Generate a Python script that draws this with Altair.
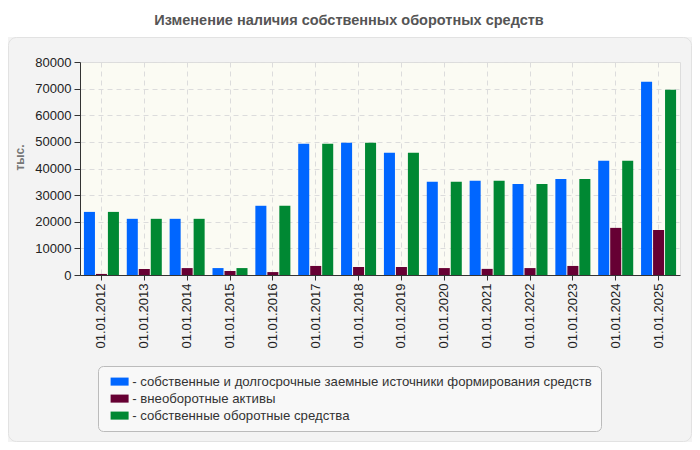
import altair as alt
import pandas as pd

TITLE = "Изменение наличия собственных оборотных средств"
Y_TITLE = "тыс."
dates = ["01.01.2012", "01.01.2013", "01.01.2014", "01.01.2015", "01.01.2016",
         "01.01.2017", "01.01.2018", "01.01.2019", "01.01.2020", "01.01.2021",
         "01.01.2022", "01.01.2023", "01.01.2024", "01.01.2025"]
series_names = [
    "собственные и долгосрочные заемные источники формирования средств",
    "внеоборотные активы",
    "собственные оборотные средства",
]
colors = ["#0066ff", "#660033", "#008833"]
own_long = [23700, 21100, 21100, 2600, 26000, 49300, 49700, 45900, 35000, 35400, 34200, 36100, 42900, 72600]
noncurrent = [400, 2300, 2600, 1500, 1100, 3400, 3000, 3000, 2600, 2300, 2600, 3400, 17700, 16900]
own_working = [23700, 21100, 21100, 2600, 26000, 49300, 49700, 45900, 35000, 35400, 34200, 36100, 42900, 69600]
y_ticks = [0, 10000, 20000, 30000, 40000, 50000, 60000, 70000, 80000]

rows = []
for i, d in enumerate(dates):
    for s, vals in zip(series_names, [own_long, noncurrent, own_working]):
        rows.append({"date": d, "series": s, "value": vals[i]})
df = pd.DataFrame(rows)

FONT = "Liberation Sans"

bars = alt.Chart(df).mark_bar().encode(
    x=alt.X("date:N", sort=dates,
            scale=alt.Scale(paddingInner=0.183, paddingOuter=0.0915),
            axis=alt.Axis(title=None, labelAngle=-90, labelFontSize=13, labelColor="#222",
                          labelPadding=3, tickSize=5, tickColor="#333", domainColor="#333",
                          gridDash=[5, 4], gridColor="#dcdcdc", grid=True)),
    xOffset=alt.XOffset("series:N", sort=series_names,
                        scale=alt.Scale(domain=series_names, paddingInner=0.08)),
    y=alt.Y("value:Q", scale=alt.Scale(domain=[0, 80000]),
            axis=alt.Axis(values=y_ticks, format="d", title=Y_TITLE, labelFontSize=13,
                          labelColor="#222", labelPadding=3, tickSize=6, tickColor="#333",
                          domainColor="#333", gridDash=[5, 4], gridColor="#dcdcdc",
                          titleColor="#777", titleFontWeight="bold", titleFontSize=12,
                          titlePadding=8, titleY=95)),
    color=alt.Color("series:N", sort=series_names,
                    scale=alt.Scale(domain=series_names, range=colors),
                    legend=alt.Legend(orient="none", legendX=18, legendY=304, title=None,
                                      direction="vertical", fillColor="#f8f8f8",
                                      strokeColor="#bbbbbb", cornerRadius=5, padding=9,
                                      symbolType="M-0.5,-0.67L2.5,-0.67L2.5,0.67L-0.5,0.67Z",
                                      symbolSize=144, symbolStrokeWidth=0, symbolOpacity=1,
                                      symbolOffset=0,
                                      labelFontSize=13.2, labelColor="#333", labelFont=FONT,
                                      rowPadding=3, labelOffset=12, labelLimit=700,
                                      labelExpr="'- ' + datum.label")),
)

dummy = pd.DataFrame({"k": [0]})
top_strip = alt.Chart(dummy).mark_rect(fill="white").encode(
    x=alt.value(-72), x2=alt.value(612), y=alt.value(-54), y2=alt.value(-25))
panel = alt.Chart(dummy).mark_rect(fill=None, stroke="#e2e2e2", strokeWidth=1, cornerRadius=8).encode(
    x=alt.value(-71.5), x2=alt.value(611.5), y=alt.value(-24.5), y2=alt.value(379.5))
title = alt.Chart(dummy).mark_text(text=TITLE, fontSize=14.5, fontWeight="bold", color="#555",
                                   font=FONT, align="center", baseline="middle").encode(
    x=alt.value(269), y=alt.value(-41))

chart = alt.layer(top_strip, panel, bars, title).properties(
    width=600, height=213,
    autosize=alt.AutoSizeParams(type="none"),
    padding={"left": 72, "top": 54, "right": 12, "bottom": 167},
    background="#f3f3f3",
).configure(font=FONT).configure_view(fill="#fbfbf3", stroke="#dddddd")

chart.save("out.html", embed_options={"renderer": "svg", "actions": False})
